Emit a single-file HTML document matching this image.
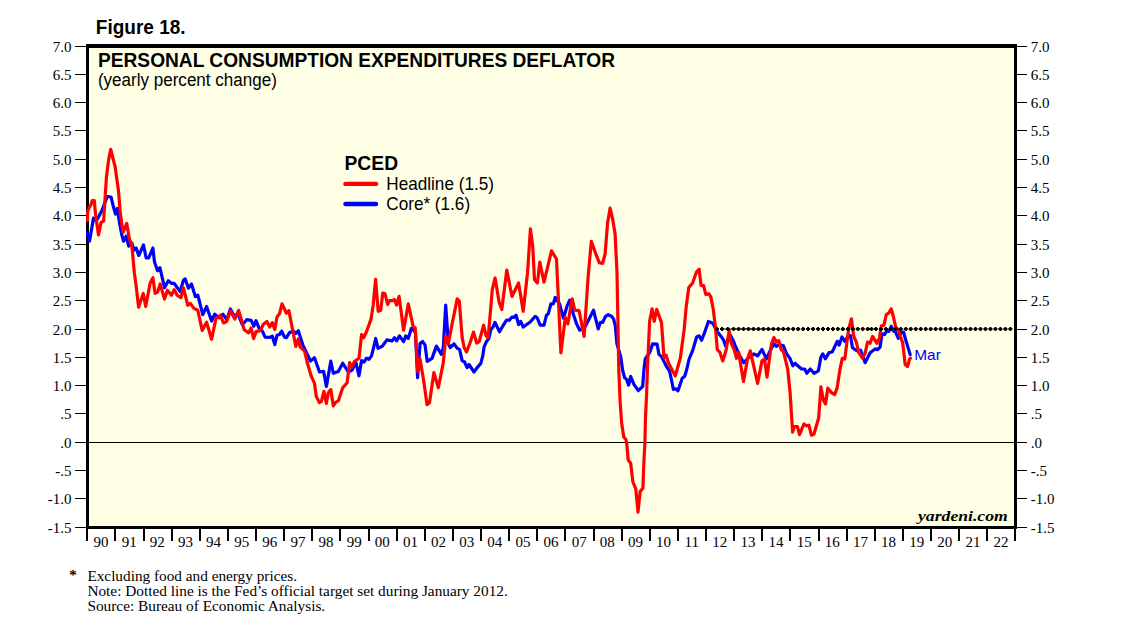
<!DOCTYPE html>
<html lang="en"><head><meta charset="utf-8"><title>Figure 18. Personal Consumption Expenditures Deflator</title>
<style>
html,body{margin:0;padding:0;background:#fff;}
body{width:1138px;height:622px;overflow:hidden;}
svg{display:block;}
.sans{font-family:"Liberation Sans",Arial,Helvetica,sans-serif;}
.serif{font-family:"Liberation Serif","Times New Roman",Times,serif;}
</style></head><body>
<svg width="1138" height="622" viewBox="0 0 1138 622">
<defs><clipPath id="plotclip"><rect x="86" y="44" width="931" height="485"/></clipPath></defs>
<rect x="0" y="0" width="1138" height="622" fill="#ffffff"/>
<rect x="88" y="46" width="927" height="481" fill="#ffffe6"/>
<g fill="#000" shape-rendering="crispEdges">
<rect x="86" y="44" width="931" height="4"/>
<rect x="86" y="526" width="931" height="3"/>
<rect x="86" y="44" width="3" height="485"/>
<rect x="1014" y="44" width="3" height="485"/>
</g>
<rect x="89" y="442" width="925" height="1" fill="#000" shape-rendering="crispEdges"/>
<polyline clip-path="url(#plotclip)" fill="none" stroke="#0000ff" stroke-width="3.2" stroke-linejoin="round" stroke-linecap="round" points="86.8,232.8 89.5,241.2 93.5,218.0 96.0,220.5 97.3,219.2 101.7,211.0 104.0,205.0 107.3,196.5 111.1,197.0 113.0,205.2 115.5,214.0 117.4,208.5 119.2,221.0 121.8,234.9 123.6,241.2 126.2,236.2 128.7,246.2 131.8,243.0 134.0,250.0 136.2,248.0 138.7,255.6 143.5,245.0 146.2,258.0 148.7,258.0 152.9,248.0 154.5,262.0 157.6,270.8 159.9,267.6 164.5,287.7 168.3,280.8 171.4,283.3 174.0,283.3 180.2,291.5 183.4,280.2 185.2,278.9 188.4,288.3 191.5,284.0 195.3,296.5 197.8,295.2 202.8,314.7 206.6,306.5 211.6,321.0 214.7,314.1 219.1,317.8 222.9,314.1 226.7,319.7 230.4,309.0 234.0,316.0 238.0,314.0 242.3,324.7 246.7,319.7 251.1,320.3 253.8,326.2 256.0,320.7 258.8,327.6 262.5,331.4 265.1,337.1 269.4,337.4 272.3,336.2 274.8,344.6 277.0,335.2 279.5,334.5 281.7,331.2 284.5,337.1 286.4,337.7 289.5,332.7 293.3,330.8 295.8,333.3 298.3,330.8 302.7,344.6 306.5,352.7 310.5,361.0 314.5,357.7 319.5,372.0 323.6,371.4 326.4,386.4 330.8,361.2 333.3,373.3 338.3,371.4 342.7,363.2 348.3,372.0 352.1,370.1 355.9,362.6 359.0,375.8 361.5,360.7 364.0,362.0 366.5,358.2 369.0,359.4 371.6,355.7 373.6,347.7 375.7,338.5 378.0,348.3 382.5,346.0 386.9,339.9 392.0,340.9 394.5,337.8 396.6,340.9 399.5,335.9 403.6,341.7 405.8,335.9 408.3,338.4 411.4,328.3 413.3,329.6 415.5,333.0 417.6,377.7 420.1,343.5 422.6,341.4 425.0,344.8 427.2,361.3 432.0,358.4 436.4,346.1 441.4,354.4 443.3,347.5 445.7,305.1 448.4,344.0 450.2,347.5 454.0,343.8 457.1,348.2 459.6,349.4 462.1,360.7 464.6,362.0 467.1,367.6 469.0,364.5 474.0,372.0 477.2,367.6 480.9,363.2 482.8,355.7 484.1,346.9 486.4,341.7 488.8,338.6 491.1,329.0 493.0,327.1 495.0,322.4 499.5,331.8 503.0,325.8 506.5,320.2 509.3,320.2 512.0,317.0 514.0,317.5 516.1,315.1 518.6,324.5 520.7,321.4 523.2,327.0 530.2,322.0 535.2,316.4 537.0,317.5 540.2,325.1 544.0,325.1 546.5,315.1 548.3,313.9 550.9,303.8 553.4,303.8 555.2,297.5 559.6,303.8 563.4,318.2 567.2,305.7 569.7,300.1 572.8,312.6 576.6,323.9 579.7,330.2 585.4,326.4 590.4,316.4 593.5,310.1 598.2,328.9 600.4,322.3 602.7,322.3 605.6,316.3 608.2,314.7 611.5,316.2 613.6,318.9 615.3,326.0 616.9,343.9 620.7,356.5 622.6,370.0 624.5,377.5 626.6,379.4 628.6,385.1 630.7,376.5 633.9,384.4 638.3,390.7 642.7,386.3 643.9,370.0 645.2,359.0 649.6,352.7 652.7,343.9 657.1,344.2 659.0,354.6 661.5,356.5 666.5,366.5 669.5,371.0 671.5,380.0 673.4,389.4 675.9,388.8 678.0,390.7 682.2,378.2 684.7,376.3 686.6,370.0 689.1,359.0 692.8,350.2 696.6,337.0 699.1,335.8 701.6,340.2 704.1,333.9 708.4,321.5 712.9,323.2 716.7,331.0 721.1,336.4 723.6,340.2 725.5,346.0 728.5,337.5 730.5,335.5 733.0,340.2 735.0,345.1 739.4,355.2 743.8,362.7 748.8,357.7 753.8,353.9 757.6,355.8 762.0,349.5 766.4,358.9 770.5,350.0 773.9,343.9 776.4,346.4 779.5,344.5 783.3,345.7 786.4,353.3 790.2,358.9 792.7,365.8 795.0,363.3 801.5,369.0 804.6,369.0 806.8,373.3 810.3,369.0 814.0,373.3 818.4,370.8 820.9,357.0 822.8,353.9 825.3,358.9 829.1,352.6 832.2,352.0 837.3,341.3 839.1,345.1 842.0,337.0 844.8,341.3 848.0,336.0 850.4,335.5 852.5,347.7 855.0,349.6 858.2,351.4 860.7,350.2 865.1,362.7 870.1,352.7 875.1,348.9 877.6,349.6 880.1,347.1 882.0,333.9 884.5,334.5 887.0,330.7 888.9,331.4 891.2,326.3 893.3,330.7 895.8,332.6 898.3,338.3 901.0,332.5 903.5,332.0 905.8,340.2 910.2,354.6"/>
<polyline clip-path="url(#plotclip)" fill="none" stroke="#ff0000" stroke-width="3.2" stroke-linejoin="round" stroke-linecap="round" points="87.5,220.4 87.5,212.0 89.0,208.0 90.6,205.5 92.3,200.6 94.3,200.6 95.6,214.8 98.5,234.9 101.1,222.3 103.6,221.1 104.8,202.3 106.4,177.6 108.6,160.0 110.7,149.3 112.9,158.0 115.1,166.5 118.4,190.2 120.5,214.8 123.0,232.4 126.8,223.4 129.3,238.7 131.8,244.9 134.3,272.5 136.3,287.1 138.6,307.2 143.2,293.4 145.7,306.5 150.1,283.3 152.9,277.7 155.1,293.4 157.6,292.1 160.2,284.0 164.5,299.0 167.4,290.2 171.4,295.2 174.2,289.6 177.1,295.2 180.9,297.8 183.4,287.7 187.8,305.3 190.3,303.4 194.0,308.4 197.8,310.3 202.2,330.4 206.6,322.2 211.6,339.2 216.0,318.5 220.4,315.3 223.5,322.9 226.7,321.6 230.4,310.9 234.8,319.1 238.6,310.3 244.2,329.8 248.6,332.9 251.1,327.9 253.6,338.5 256.1,331.6 260.5,330.4 263.2,324.5 266.9,321.4 269.8,327.0 272.3,322.6 274.8,329.5 277.0,317.0 279.5,313.8 282.0,303.8 286.4,313.2 288.9,310.7 292.7,330.2 295.8,346.5 298.3,338.9 300.2,347.1 304.4,350.7 307.6,363.8 311.3,376.4 314.5,383.3 316.3,396.5 319.5,402.7 321.4,401.5 323.9,391.4 326.4,403.4 328.3,392.7 330.8,389.6 333.3,405.9 335.8,402.1 338.3,400.9 342.7,387.7 347.1,382.7 349.6,362.6 351.5,367.0 354.6,361.3 359.0,358.2 361.6,334.5 363.6,337.7 366.1,332.7 371.1,318.9 373.2,305.0 375.6,279.4 378.2,311.4 380.7,310.2 382.8,293.0 385.1,293.8 387.6,304.5 389.4,300.7 392.6,300.7 394.5,299.5 396.6,305.1 399.1,296.3 403.6,330.2 408.3,303.9 413.3,327.1 415.2,327.7 417.6,371.4 420.0,358.8 423.8,381.4 427.0,404.6 429.5,402.8 433.9,372.6 438.3,387.7 443.3,362.6 445.8,336.0 448.4,343.6 451.6,326.5 457.2,298.9 459.3,301.4 462.2,337.8 464.2,347.8 466.5,351.9 470.0,343.0 473.5,332.1 476.7,343.0 479.2,341.7 483.6,325.2 486.1,335.9 488.2,337.7 492.3,289.4 495.1,278.0 499.2,302.6 501.8,309.5 506.8,270.0 512.0,296.5 518.6,282.9 523.2,311.3 527.6,272.2 530.4,228.9 532.7,245.8 534.5,279.7 537.4,282.9 539.8,262.2 544.0,282.2 551.5,250.9 556.5,259.0 560.9,352.8 565.3,317.6 567.8,323.9 572.2,298.8 574.7,310.1 579.1,310.7 584.1,336.4 588.2,276.0 591.3,241.4 596.3,255.2 599.4,262.8 602.6,263.4 605.1,254.0 607.6,222.6 610.1,208.2 612.6,218.8 615.1,233.9 617.0,272.8 618.8,370.0 620.1,401.4 621.6,422.7 623.8,437.1 626.0,439.5 627.0,446.0 628.2,460.1 630.7,463.2 632.9,482.0 635.8,488.9 638.0,512.1 640.2,491.4 642.9,488.3 643.7,466.3 644.9,442.5 645.4,420.2 646.7,391.3 647.4,370.0 649.6,321.3 652.1,308.8 654.2,321.3 656.7,309.4 661.5,322.6 664.0,357.7 666.1,355.2 668.4,362.7 675.3,375.9 680.3,358.3 684.1,330.1 686.3,305.7 688.8,287.5 692.6,283.1 696.3,272.4 699.1,269.3 701.1,285.6 703.6,285.6 705.8,294.4 708.9,293.8 710.8,296.9 713.3,309.4 715.5,328.0 717.3,349.6 719.8,352.1 722.7,360.9 726.1,350.2 729.2,330.7 731.1,342.7 734.3,350.2 736.5,358.3 738.6,352.1 743.5,381.5 747.5,358.9 750.3,350.8 757.6,383.4 762.0,360.8 764.5,358.9 767.0,377.1 771.4,343.9 773.9,337.6 776.4,342.0 778.7,340.7 781.4,350.1 783.3,350.8 787.7,369.0 790.1,392.6 792.6,432.1 794.5,426.5 797.4,426.5 799.5,434.6 803.9,424.0 806.7,425.8 808.9,425.2 811.4,435.2 814.0,434.0 818.7,417.7 820.9,386.9 823.4,400.1 825.6,403.9 827.8,388.2 831.5,392.6 834.7,394.5 837.2,387.6 839.8,370.2 842.3,358.3 844.8,358.9 848.6,329.4 851.4,318.8 853.8,336.4 856.3,342.0 858.8,352.7 862.5,358.3 865.1,353.3 867.6,342.0 870.1,343.3 872.6,336.4 877.0,343.3 879.5,337.6 881.4,325.7 883.9,325.1 886.4,314.4 888.6,313.2 891.2,308.8 893.3,316.3 895.8,327.6 898.3,329.5 900.2,336.4 902.7,342.7 905.2,364.6 907.5,366.5 909.6,359.0 910.5,358.3"/>
<line x1="722" y1="329" x2="790" y2="329" stroke="#000" stroke-width="0.8"/>
<path fill="#000" d="M715.90,327h2v1h1v2h-1v1h-2v-1h-1v-2h1zM721.00,327h2v1h1v2h-1v1h-2v-1h-1v-2h1zM726.80,327h2v1h1v2h-1v1h-2v-1h-1v-2h1zM732.60,327h2v1h1v2h-1v1h-2v-1h-1v-2h1zM737.57,327h2v1h1v2h-1v1h-2v-1h-1v-2h1zM742.53,327h2v1h1v2h-1v1h-2v-1h-1v-2h1zM747.50,327h2v1h1v2h-1v1h-2v-1h-1v-2h1zM752.47,327h2v1h1v2h-1v1h-2v-1h-1v-2h1zM757.44,327h2v1h1v2h-1v1h-2v-1h-1v-2h1zM762.40,327h2v1h1v2h-1v1h-2v-1h-1v-2h1zM767.37,327h2v1h1v2h-1v1h-2v-1h-1v-2h1zM772.34,327h2v1h1v2h-1v1h-2v-1h-1v-2h1zM777.30,327h2v1h1v2h-1v1h-2v-1h-1v-2h1zM782.27,327h2v1h1v2h-1v1h-2v-1h-1v-2h1zM787.24,327h2v1h1v2h-1v1h-2v-1h-1v-2h1zM792.20,327h2v1h1v2h-1v1h-2v-1h-1v-2h1zM797.17,327h2v1h1v2h-1v1h-2v-1h-1v-2h1zM802.14,327h2v1h1v2h-1v1h-2v-1h-1v-2h1zM807.11,327h2v1h1v2h-1v1h-2v-1h-1v-2h1zM812.07,327h2v1h1v2h-1v1h-2v-1h-1v-2h1zM817.04,327h2v1h1v2h-1v1h-2v-1h-1v-2h1zM822.01,327h2v1h1v2h-1v1h-2v-1h-1v-2h1zM826.97,327h2v1h1v2h-1v1h-2v-1h-1v-2h1zM831.94,327h2v1h1v2h-1v1h-2v-1h-1v-2h1zM836.91,327h2v1h1v2h-1v1h-2v-1h-1v-2h1zM841.87,327h2v1h1v2h-1v1h-2v-1h-1v-2h1zM846.84,327h2v1h1v2h-1v1h-2v-1h-1v-2h1zM851.81,327h2v1h1v2h-1v1h-2v-1h-1v-2h1zM856.77,327h2v1h1v2h-1v1h-2v-1h-1v-2h1zM861.74,327h2v1h1v2h-1v1h-2v-1h-1v-2h1zM866.71,327h2v1h1v2h-1v1h-2v-1h-1v-2h1zM870.50,327h2v1h1v2h-1v1h-2v-1h-1v-2h1zM874.90,327h2v1h1v2h-1v1h-2v-1h-1v-2h1zM879.88,327h2v1h1v2h-1v1h-2v-1h-1v-2h1zM884.86,327h2v1h1v2h-1v1h-2v-1h-1v-2h1zM889.84,327h2v1h1v2h-1v1h-2v-1h-1v-2h1zM894.82,327h2v1h1v2h-1v1h-2v-1h-1v-2h1zM899.80,327h2v1h1v2h-1v1h-2v-1h-1v-2h1zM904.78,327h2v1h1v2h-1v1h-2v-1h-1v-2h1zM909.76,327h2v1h1v2h-1v1h-2v-1h-1v-2h1zM914.74,327h2v1h1v2h-1v1h-2v-1h-1v-2h1zM919.72,327h2v1h1v2h-1v1h-2v-1h-1v-2h1zM924.70,327h2v1h1v2h-1v1h-2v-1h-1v-2h1zM929.68,327h2v1h1v2h-1v1h-2v-1h-1v-2h1zM934.66,327h2v1h1v2h-1v1h-2v-1h-1v-2h1zM939.64,327h2v1h1v2h-1v1h-2v-1h-1v-2h1zM944.62,327h2v1h1v2h-1v1h-2v-1h-1v-2h1zM949.60,327h2v1h1v2h-1v1h-2v-1h-1v-2h1zM954.58,327h2v1h1v2h-1v1h-2v-1h-1v-2h1zM959.56,327h2v1h1v2h-1v1h-2v-1h-1v-2h1zM964.54,327h2v1h1v2h-1v1h-2v-1h-1v-2h1zM969.52,327h2v1h1v2h-1v1h-2v-1h-1v-2h1zM974.50,327h2v1h1v2h-1v1h-2v-1h-1v-2h1zM979.48,327h2v1h1v2h-1v1h-2v-1h-1v-2h1zM984.46,327h2v1h1v2h-1v1h-2v-1h-1v-2h1zM989.44,327h2v1h1v2h-1v1h-2v-1h-1v-2h1zM994.42,327h2v1h1v2h-1v1h-2v-1h-1v-2h1zM999.40,327h2v1h1v2h-1v1h-2v-1h-1v-2h1zM1004.38,327h2v1h1v2h-1v1h-2v-1h-1v-2h1zM1009.36,327h2v1h1v2h-1v1h-2v-1h-1v-2h1z"/>
<g fill="#000" shape-rendering="crispEdges">
<rect x="75" y="46" width="11" height="1"/>
<rect x="1017" y="46" width="10" height="1"/>
<rect x="75" y="74" width="11" height="1"/>
<rect x="1017" y="74" width="10" height="1"/>
<rect x="75" y="102" width="11" height="1"/>
<rect x="1017" y="102" width="10" height="1"/>
<rect x="75" y="130" width="11" height="1"/>
<rect x="1017" y="130" width="10" height="1"/>
<rect x="75" y="159" width="11" height="1"/>
<rect x="1017" y="159" width="10" height="1"/>
<rect x="75" y="187" width="11" height="1"/>
<rect x="1017" y="187" width="10" height="1"/>
<rect x="75" y="215" width="11" height="1"/>
<rect x="1017" y="215" width="10" height="1"/>
<rect x="75" y="244" width="11" height="1"/>
<rect x="1017" y="244" width="10" height="1"/>
<rect x="75" y="272" width="11" height="1"/>
<rect x="1017" y="272" width="10" height="1"/>
<rect x="75" y="300" width="11" height="1"/>
<rect x="1017" y="300" width="10" height="1"/>
<rect x="75" y="329" width="11" height="1"/>
<rect x="1017" y="329" width="10" height="1"/>
<rect x="75" y="357" width="11" height="1"/>
<rect x="1017" y="357" width="10" height="1"/>
<rect x="75" y="385" width="11" height="1"/>
<rect x="1017" y="385" width="10" height="1"/>
<rect x="75" y="413" width="11" height="1"/>
<rect x="1017" y="413" width="10" height="1"/>
<rect x="75" y="442" width="11" height="1"/>
<rect x="1017" y="442" width="10" height="1"/>
<rect x="75" y="470" width="11" height="1"/>
<rect x="1017" y="470" width="10" height="1"/>
<rect x="75" y="498" width="11" height="1"/>
<rect x="1017" y="498" width="10" height="1"/>
<rect x="75" y="527" width="11" height="1"/>
<rect x="1017" y="527" width="10" height="1"/>
</g>
<g class="serif" font-size="15" fill="#000">
<text x="71.6" y="52.20" text-anchor="end">7.0</text>
<text x="1030.8" y="52.20">7.0</text>
<text x="71.6" y="80.20" text-anchor="end">6.5</text>
<text x="1030.8" y="80.20">6.5</text>
<text x="71.6" y="108.20" text-anchor="end">6.0</text>
<text x="1030.8" y="108.20">6.0</text>
<text x="71.6" y="136.20" text-anchor="end">5.5</text>
<text x="1030.8" y="136.20">5.5</text>
<text x="71.6" y="165.20" text-anchor="end">5.0</text>
<text x="1030.8" y="165.20">5.0</text>
<text x="71.6" y="193.20" text-anchor="end">4.5</text>
<text x="1030.8" y="193.20">4.5</text>
<text x="71.6" y="221.20" text-anchor="end">4.0</text>
<text x="1030.8" y="221.20">4.0</text>
<text x="71.6" y="250.20" text-anchor="end">3.5</text>
<text x="1030.8" y="250.20">3.5</text>
<text x="71.6" y="278.20" text-anchor="end">3.0</text>
<text x="1030.8" y="278.20">3.0</text>
<text x="71.6" y="306.20" text-anchor="end">2.5</text>
<text x="1030.8" y="306.20">2.5</text>
<text x="71.6" y="335.20" text-anchor="end">2.0</text>
<text x="1030.8" y="335.20">2.0</text>
<text x="71.6" y="363.20" text-anchor="end">1.5</text>
<text x="1030.8" y="363.20">1.5</text>
<text x="71.6" y="391.20" text-anchor="end">1.0</text>
<text x="1030.8" y="391.20">1.0</text>
<text x="71.6" y="419.20" text-anchor="end">.5</text>
<text x="1030.8" y="419.20">.5</text>
<text x="71.6" y="448.20" text-anchor="end">.0</text>
<text x="1030.8" y="448.20">.0</text>
<text x="71.6" y="476.20" text-anchor="end">-.5</text>
<text x="1030.8" y="476.20">-.5</text>
<text x="71.6" y="504.20" text-anchor="end">-1.0</text>
<text x="1030.8" y="504.20">-1.0</text>
<text x="71.6" y="533.20" text-anchor="end">-1.5</text>
<text x="1030.8" y="533.20">-1.5</text>
</g>
<g fill="#000" shape-rendering="crispEdges">
<rect x="86" y="528" width="2" height="13"/>
<rect x="114" y="528" width="2" height="13"/>
<rect x="143" y="528" width="2" height="13"/>
<rect x="171" y="528" width="2" height="13"/>
<rect x="199" y="528" width="2" height="13"/>
<rect x="227" y="528" width="2" height="13"/>
<rect x="255" y="528" width="2" height="13"/>
<rect x="283" y="528" width="2" height="13"/>
<rect x="311" y="528" width="2" height="13"/>
<rect x="339" y="528" width="2" height="13"/>
<rect x="368" y="528" width="2" height="13"/>
<rect x="396" y="528" width="2" height="13"/>
<rect x="424" y="528" width="2" height="13"/>
<rect x="452" y="528" width="2" height="13"/>
<rect x="480" y="528" width="2" height="13"/>
<rect x="508" y="528" width="2" height="13"/>
<rect x="536" y="528" width="2" height="13"/>
<rect x="564" y="528" width="2" height="13"/>
<rect x="593" y="528" width="2" height="13"/>
<rect x="621" y="528" width="2" height="13"/>
<rect x="649" y="528" width="2" height="13"/>
<rect x="677" y="528" width="2" height="13"/>
<rect x="705" y="528" width="2" height="13"/>
<rect x="733" y="528" width="2" height="13"/>
<rect x="761" y="528" width="2" height="13"/>
<rect x="789" y="528" width="2" height="13"/>
<rect x="818" y="528" width="2" height="13"/>
<rect x="846" y="528" width="2" height="13"/>
<rect x="874" y="528" width="2" height="13"/>
<rect x="902" y="528" width="2" height="13"/>
<rect x="930" y="528" width="2" height="13"/>
<rect x="958" y="528" width="2" height="13"/>
<rect x="986" y="528" width="2" height="13"/>
<rect x="1014" y="528" width="2" height="13"/>
</g>
<g class="serif" font-size="15" fill="#000" text-anchor="middle">
<text x="101.06" y="546.7">90</text>
<text x="129.19" y="546.7">91</text>
<text x="157.31" y="546.7">92</text>
<text x="185.44" y="546.7">93</text>
<text x="213.56" y="546.7">94</text>
<text x="241.69" y="546.7">95</text>
<text x="269.81" y="546.7">96</text>
<text x="297.94" y="546.7">97</text>
<text x="326.06" y="546.7">98</text>
<text x="354.19" y="546.7">99</text>
<text x="382.31" y="546.7">00</text>
<text x="410.44" y="546.7">01</text>
<text x="438.56" y="546.7">02</text>
<text x="466.69" y="546.7">03</text>
<text x="494.81" y="546.7">04</text>
<text x="522.94" y="546.7">05</text>
<text x="551.06" y="546.7">06</text>
<text x="579.19" y="546.7">07</text>
<text x="607.31" y="546.7">08</text>
<text x="635.44" y="546.7">09</text>
<text x="663.56" y="546.7">10</text>
<text x="691.69" y="546.7">11</text>
<text x="719.81" y="546.7">12</text>
<text x="747.94" y="546.7">13</text>
<text x="776.06" y="546.7">14</text>
<text x="804.19" y="546.7">15</text>
<text x="832.31" y="546.7">16</text>
<text x="860.44" y="546.7">17</text>
<text x="888.56" y="546.7">18</text>
<text x="916.69" y="546.7">19</text>
<text x="944.81" y="546.7">20</text>
<text x="972.94" y="546.7">21</text>
<text x="1001.06" y="546.7">22</text>
</g>
<text class="sans" x="95.8" y="33.9" font-size="20" font-weight="bold" fill="#000" textLength="89.8" lengthAdjust="spacingAndGlyphs">Figure 18.</text>
<text class="sans" x="98.0" y="66.9" font-size="20.3" font-weight="bold" fill="#000" textLength="517.0" lengthAdjust="spacingAndGlyphs">PERSONAL CONSUMPTION EXPENDITURES DEFLATOR</text>
<text class="sans" x="97.9" y="86.2" font-size="18" fill="#000" textLength="179" lengthAdjust="spacingAndGlyphs">(yearly percent change)</text>
<text class="sans" x="344.5" y="169.9" font-size="20.3" font-weight="bold" fill="#000" textLength="53.6" lengthAdjust="spacingAndGlyphs">PCED</text>
<line x1="345.4" y1="183.9" x2="376" y2="183.9" stroke="#ff0000" stroke-width="4.4" stroke-linecap="round"/>
<line x1="345.4" y1="204" x2="376" y2="204" stroke="#0000ff" stroke-width="4.4" stroke-linecap="round"/>
<text class="sans" x="386.3" y="190.0" font-size="18.5" fill="#000" textLength="107.6" lengthAdjust="spacingAndGlyphs">Headline (1.5)</text>
<text class="sans" x="386.3" y="209.9" font-size="18.5" fill="#000" textLength="83.8" lengthAdjust="spacingAndGlyphs">Core* (1.6)</text>
<text class="sans" x="914.2" y="359.7" font-size="15" fill="#0000ff" textLength="26.6" lengthAdjust="spacingAndGlyphs">Mar</text>
<text class="serif" x="918.0" y="520.5" font-size="14.3" font-weight="bold" font-style="italic" fill="#000" textLength="89.8" lengthAdjust="spacingAndGlyphs">yardeni.com</text>
<g class="serif" font-size="15" fill="#000" lengthAdjust="spacingAndGlyphs">
<text x="69.3" y="580.0" font-weight="bold">*</text>
<text x="87.4" y="580.9" textLength="209.6" lengthAdjust="spacingAndGlyphs">Excluding food and energy prices.</text>
<text x="87.4" y="595.7" textLength="420.4" lengthAdjust="spacingAndGlyphs">Note: Dotted line is the Fed’s official target set during January 2012.</text>
<text x="87.4" y="610.5" textLength="237.8" lengthAdjust="spacingAndGlyphs">Source: Bureau of Economic Analysis.</text>
</g>
</svg></body></html>
